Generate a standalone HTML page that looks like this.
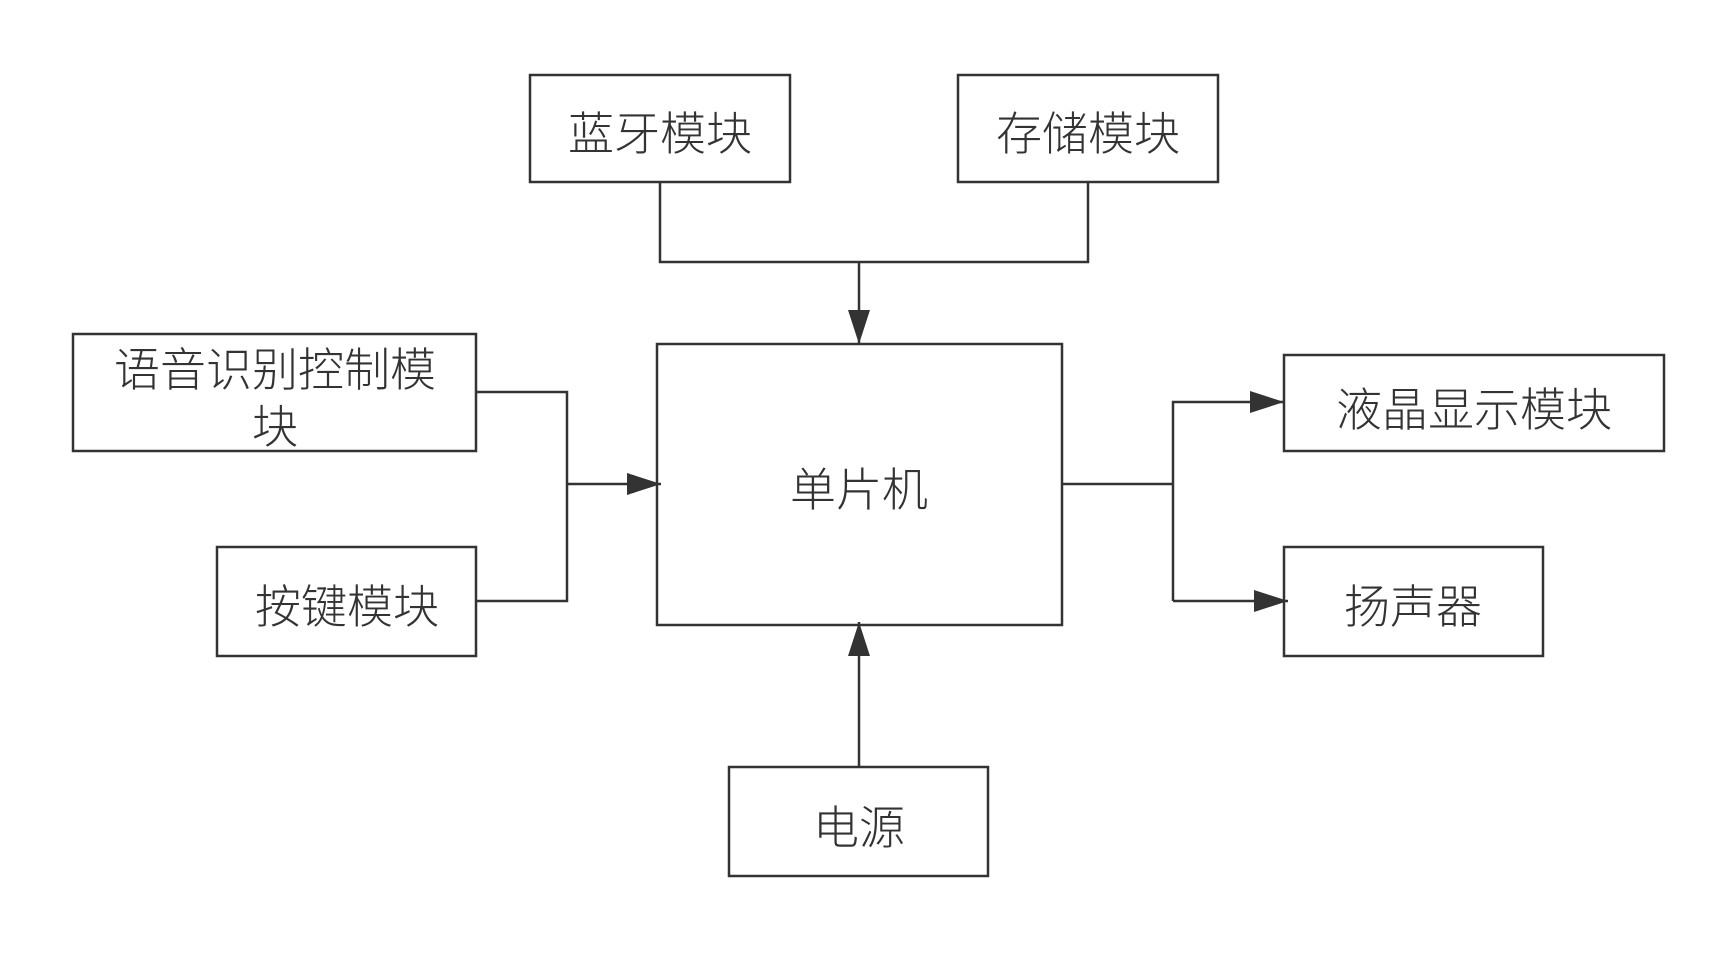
<!DOCTYPE html>
<html><head><meta charset="utf-8"><style>
body{margin:0;background:#fff}
svg text{font-family:"Liberation Sans","Noto Sans CJK SC",sans-serif;font-size:46px;font-weight:300;fill:#333}
</style></head><body>
<svg width="1734" height="948" xmlns="http://www.w3.org/2000/svg">
<defs>
<marker id="b" markerWidth="34" markerHeight="22" refX="34" refY="11" orient="auto" markerUnits="userSpaceOnUse"><path d="M0,0 L34,11 L0,22z" fill="#333"/></marker></defs>
<g transform="translate(-3,-1)">
<g fill="none" stroke="#333" stroke-width="2.5">
<rect x="533" y="76" width="260" height="107"/>
<rect x="961" y="76" width="260" height="107"/>
<rect x="660" y="345" width="405" height="281"/>
<rect x="76" y="335" width="403" height="117"/>
<rect x="220" y="548" width="259" height="109"/>
<rect x="1287" y="356" width="380" height="96"/>
<rect x="1287" y="548" width="259" height="109"/>
<rect x="732" y="768" width="259" height="109"/>
<polyline points="663,183 663,263 1091,263 1091,183"/>
<line x1="862" y1="263" x2="862" y2="345" marker-end="url(#b)"/>
<polyline points="479,393 570,393 570,602 479,602"/>
<line x1="570" y1="485" x2="664" y2="485" marker-end="url(#b)"/>
<line x1="1065" y1="485" x2="1176" y2="485"/>
<polyline points="1176,602 1176,403 1287,403" marker-end="url(#b)"/>
<line x1="1176" y1="602" x2="1291" y2="602" marker-end="url(#b)"/>
<line x1="862" y1="768" x2="862" y2="623" marker-end="url(#b)"/>
</g>
<text x="663" y="151" text-anchor="middle">蓝牙模块</text>
<text x="1091" y="151" text-anchor="middle">存储模块</text>
<text x="862" y="507" text-anchor="middle">单片机</text>
<text x="278" y="387" text-anchor="middle">语音识别控制模</text>
<text x="278" y="444" text-anchor="middle">块</text>
<text x="350" y="624" text-anchor="middle">按键模块</text>
<text x="1477" y="427" text-anchor="middle">液晶显示模块</text>
<text x="1416" y="624" text-anchor="middle">扬声器</text>
<text x="862" y="845" text-anchor="middle">电源</text>
</g>
</svg>
</body></html>
